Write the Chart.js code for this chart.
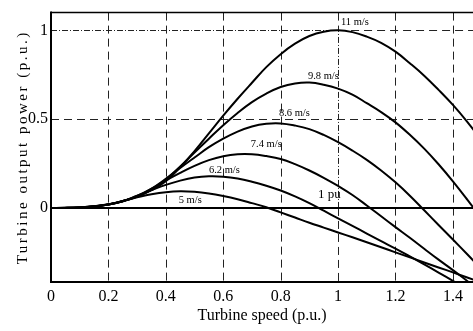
<!DOCTYPE html>
<html>
<head>
<meta charset="utf-8">
<script src="https://cdn.jsdelivr.net/npm/chart.js@4.4.0/dist/chart.umd.min.js"></script>
<style>
  html, body { margin: 0; padding: 0; background: #fff; }
  #wrap { width: 473px; height: 331px; }
</style>
</head>
<body>
<div id="wrap"><canvas id="chart" width="473" height="331"></canvas></div>
<script>
// Velocidad de turbina (p.u.)
const speedPu = [0, 0.05, 0.1, 0.15, 0.2, 0.25, 0.3, 0.35, 0.4, 0.45, 0.5, 0.55, 0.6, 0.65, 0.7, 0.75,
    0.8, 0.85, 0.9, 0.95, 1, 1.05, 1.1, 1.15, 1.2, 1.25, 1.3, 1.35, 1.4, 1.45, 1.5];

// Potencia (p.u.) por velocidad de viento
const p11 = [0, 0.0005, 0.003, 0.009, 0.02, 0.038, 0.065, 0.10, 0.15, 0.23, 0.32, 0.42, 0.52, 0.615, 0.705, 0.793,
    0.866, 0.925, 0.968, 0.992, 1.0, 0.99, 0.965, 0.93, 0.88, 0.815, 0.745, 0.665, 0.58, 0.485, 0.38];
const p98 = [0, 0.0004, 0.003, 0.009, 0.0205, 0.0385, 0.064, 0.101, 0.161, 0.233, 0.3125, 0.39, 0.466, 0.535, 0.596, 0.644,
    0.681, 0.701, 0.706, 0.694, 0.672, 0.638, 0.59, 0.54, 0.482, 0.412, 0.334, 0.246, 0.15, 0.047, -0.06];
const p86 = [0, 0.0004, 0.003, 0.0086, 0.0196, 0.0378, 0.064, 0.108, 0.164, 0.225, 0.284, 0.342, 0.39, 0.43, 0.459, 0.474,
    0.476, 0.464, 0.444, 0.411, 0.37, 0.323, 0.271, 0.211, 0.144, 0.069, -0.013, -0.096, -0.178, -0.261, -0.344];
const p74 = [0, 0.0005, 0.0027, 0.0086, 0.0193, 0.037, 0.068, 0.109, 0.155, 0.198, 0.237, 0.269, 0.291, 0.302, 0.302, 0.292,
    0.276, 0.247, 0.211, 0.17, 0.124, 0.073, 0.014, -0.047, -0.108, -0.168, -0.23, -0.291, -0.35, -0.411, -0.47];
const p62 = [0, 0.0004, 0.0025, 0.0083, 0.0187, 0.039, 0.069, 0.10, 0.13, 0.154, 0.171, 0.178, 0.176, 0.166, 0.148, 0.125,
    0.098, 0.065, 0.027, -0.0155, -0.0585, -0.101, -0.144, -0.187, -0.229, -0.273, -0.318, -0.364, -0.41, -0.456, -0.50];
const p50 = [0, 0.0003, 0.0026, 0.0081, 0.0201, 0.0394, 0.0595, 0.077, 0.0889, 0.0937, 0.0906, 0.0814, 0.067, 0.049, 0.027, 0.004,
    -0.025, -0.054, -0.0832, -0.1106, -0.138, -0.165, -0.193, -0.221, -0.25, -0.278, -0.307, -0.335, -0.363, -0.392, -0.42];

const seriesNames = ['11 m/s', '9.8 m/s', '8.6 m/s', '7.4 m/s', '6.2 m/s', '5 m/s'];
const seriesValues = [p11, p98, p86, p74, p62, p50];

// Ejes
const xTicks = [0, 0.2, 0.4, 0.6, 0.8, 1, 1.2, 1.4];
const yTicks = [0, 0.5, 1];
const xTitle = 'Turbine speed (p.u.)';
const yTitle = 'Turbine output power (p.u.)';

// Etiquetas de curvas (coordenadas de datos)
const curveLabels = [
    { text: '11 m/s', x: 1.01, y: 1.044 },
    { text: '9.8 m/s', x: 0.895, y: 0.74 },
    { text: '8.6 m/s', x: 0.794, y: 0.536 },
    { text: '7.4 m/s', x: 0.696, y: 0.36 },
    { text: '6.2 m/s', x: 0.55, y: 0.213 },
    { text: '5 m/s', x: 0.445, y: 0.044 },
];
const puLabel = { text: '1 pu', x: 0.93, y: 0.077 };

const SERIF = '"Liberation Serif", "DejaVu Serif", serif';

function line(ctx, x1, y1, x2, y2) {
    ctx.beginPath();
    ctx.moveTo(x1, y1);
    ctx.lineTo(x2, y2);
    ctx.stroke();
}

// rejilla, marco y textos
const framePlugin = {
    id: 'frame',
    beforeDatasetsDraw(chart) {
        const { ctx, chartArea: a, scales: { x, y } } = chart;
        ctx.save();
        ctx.strokeStyle = '#222';
        ctx.lineWidth = 1;
        const y0 = y.getPixelForValue(0), y1 = y.getPixelForValue(1);
        const x0 = x.getPixelForValue(0), x1 = x.getPixelForValue(1);

        // verticales discontinuas
        ctx.setLineDash([8, 5]);
        xTicks.filter(v => v > 0).forEach(v => {
            const px = Math.round(x.getPixelForValue(v)) + 0.5;
            if (v === 1) {
                line(ctx, px, a.top, px, y1);
                line(ctx, px, y0, px, a.bottom);
            } else {
                line(ctx, px, a.top, px, a.bottom);
            }
        });
        // horizontales discontinuas
        yTicks.filter(v => v !== 0).forEach(v => {
            const py = Math.round(y.getPixelForValue(v)) + 0.5;
            if (v === 1) line(ctx, x1, py, a.right, py);
            else line(ctx, a.left, py, a.right, py);
        });

        // linea 1 pu (punto y raya)
        ctx.setLineDash([6, 2, 1, 2]);
        const pxOne = Math.round(x1) + 0.5, pyOne = Math.round(y1) + 0.5;
        line(ctx, pxOne, y0, pxOne, y1);
        line(ctx, x0, pyOne, x1, pyOne);

        // eje cero
        ctx.setLineDash([]);
        ctx.strokeStyle = '#000';
        ctx.lineWidth = 2;
        line(ctx, a.left, Math.round(y0), a.right, Math.round(y0));
        ctx.restore();
    },
    afterDatasetsDraw(chart) {
        const { ctx, chartArea: a, scales: { x, y } } = chart;
        ctx.save();
        ctx.strokeStyle = '#000';
        ctx.setLineDash([]);
        ctx.lineWidth = 2;
        line(ctx, a.left, a.top - 1, a.left, a.bottom);
        line(ctx, a.left - 1, a.bottom, a.right, a.bottom);
        ctx.lineWidth = 1.5;
        line(ctx, a.left, a.top, a.right, a.top);

        ctx.fillStyle = '#000';
        ctx.textAlign = 'left';
        ctx.textBaseline = 'middle';
        ctx.font = '10.5px ' + SERIF;
        curveLabels.forEach(l => ctx.fillText(l.text, x.getPixelForValue(l.x), y.getPixelForValue(l.y)));
        ctx.font = '13px ' + SERIF;
        ctx.fillText(puLabel.text, x.getPixelForValue(puLabel.x), y.getPixelForValue(puLabel.y));

        // titulos
        ctx.textAlign = 'center';
        ctx.font = '16px ' + SERIF;
        ctx.fillText(xTitle, (a.left + a.right) / 2, 316);

        ctx.translate(23, (a.top + a.bottom) / 2);
        ctx.rotate(-Math.PI / 2);
        ctx.font = '15px ' + SERIF;
        ctx.letterSpacing = '2.5px';
        ctx.fillText(yTitle, 0, 0);
        ctx.restore();
    }
};

new Chart(document.getElementById('chart'), {
    type: 'line',
    data: {
        datasets: seriesValues.map((vals, i) => ({
            label: seriesNames[i],
            data: speedPu.map((s, j) => ({ x: s, y: vals[j] })),
            borderColor: '#000', borderWidth: 2, pointRadius: 0, tension: 0.4, fill: false
        }))
    },
    options: {
        responsive: false, animation: false,
        layout: { padding: { top: 8, right: 0, left: 0, bottom: 0 } },
        plugins: { legend: { display: false }, tooltip: { enabled: false } },
        scales: {
            x: {
                type: 'linear', min: 0, max: 1.47,
                afterBuildTicks: s => { s.ticks = xTicks.map(v => ({ value: v })); },
                afterFit: s => { s.height = 49; },
                grid: { display: false, drawTicks: false },
                border: { display: false },
                ticks: { padding: 5, autoSkip: false, maxRotation: 0, color: '#000', font: { family: SERIF, size: 16 }, callback: v => String(v) }
            },
            y: {
                type: 'linear', min: -0.417, max: 1.1,
                afterBuildTicks: s => { s.ticks = yTicks.map(v => ({ value: v })); },
                afterFit: s => { s.width = 51; },
                grid: { display: false, drawTicks: false },
                border: { display: false },
                ticks: { padding: 3, color: '#000', font: { family: SERIF, size: 16 }, callback: v => String(v) }
            }
        }
    },
    plugins: [framePlugin]
});
</script>
</body>
</html>
